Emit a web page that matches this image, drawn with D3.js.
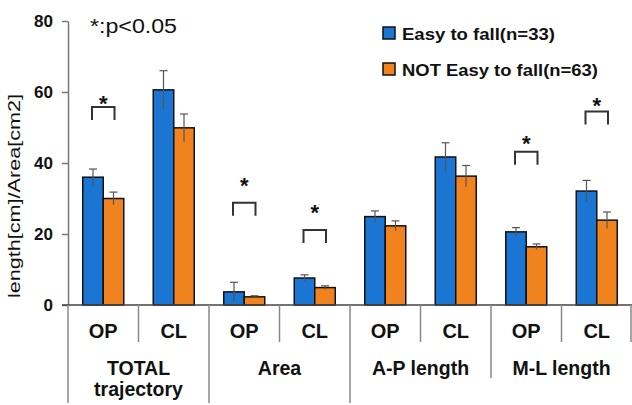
<!DOCTYPE html>
<html>
<head>
<meta charset="utf-8">
<script src="https://d3js.org/d3.v7.min.js"></script>
<style>
  body { margin: 0; background: #fff; }
  text { font-family: "Liberation Sans", Arial, sans-serif; }
</style>
</head>
<body>
<svg width="632" height="405"></svg>
<script>
// data
const groups = ["TOTAL\ntrajectory", "Area", "A-P length", "M-L length"];
const conditions = ["OP", "CL", "OP", "CL", "OP", "CL", "OP", "CL"];
const easyMean = [36, 60.6, 3.7, 7.6, 24.9, 41.7, 20.6, 32.1];
const easyErr = [2.3, 5.4, 2.7, 0.9, 1.6, 4.0, 1.2, 3.0];
const notMean = [30, 49.9, 2.3, 4.9, 22.3, 36.3, 16.4, 23.9];
const notErr = [1.8, 3.9, 0.3, 0.5, 1.4, 3.0, 0.8, 2.3];
const seriesNames = ["Easy to fall(n=33)", "NOT Easy to fall(n=63)"];
const colors = ["#1b76d3", "#f1831f"];
const yTicks = [0, 20, 40, 60, 80];
// significance: category index, bracket level, star level
const sigIdx = [0, 2, 3, 6, 7];
const sigLevel = [55.8, 28.8, 21.1, 43.2, 54.5];
const starLevel = [57.5, 34.5, 26.8, 46.3, 57.0];

const svg = d3.select("svg");
const x0 = 68, x1 = 632, yTop = 21, yBase = 305;

const y = d3.scaleLinear().domain([0, 80]).range([yBase, yTop]);
const x = d3.scaleBand().domain(d3.range(8)).range([x0, x1]).paddingInner(0).paddingOuter(0);
const xs = d3.scaleBand().domain([0, 1]).range([0, 41]);
const barOff = (x.bandwidth() - 41) / 2;

const data = d3.range(8).map(i => [
  { i, s: 0, v: easyMean[i], e: easyErr[i] },
  { i, s: 1, v: notMean[i], e: notErr[i] }
]).flat();

// y axis
const yAxis = d3.axisLeft(y).tickValues(yTicks).tickSize(6).tickSizeOuter(0);
const ga = svg.append("g").attr("transform", `translate(${x0},0)`).call(yAxis);
ga.select(".domain").attr("stroke", "#777").attr("stroke-width", 1.5);
ga.selectAll(".tick line").attr("stroke", "#777").attr("stroke-width", 1.5);
ga.selectAll(".tick text").attr("font-size", 17).attr("font-weight", "bold")
  .attr("fill", "#111").attr("x", -15).attr("dy", "0.35em")
  .attr("font-family", "'Liberation Sans', Arial, sans-serif");

svg.append("text")
  .attr("transform", `translate(20,196) rotate(-90)`)
  .attr("text-anchor", "middle")
  .attr("font-size", 16)
  .attr("fill", "#111")
  .attr("textLength", 204).attr("lengthAdjust", "spacingAndGlyphs")
  .text("length[cm]/Area[cm2]");

// bars
svg.selectAll(".bar").data(data).enter().append("rect")
  .attr("class", "bar")
  .attr("x", d => x(d.i) + barOff + xs(d.s))
  .attr("width", xs.bandwidth())
  .attr("y", d => y(d.v))
  .attr("height", d => yBase - y(d.v))
  .attr("fill", d => colors[d.s])
  .attr("stroke", "#111")
  .attr("stroke-width", 1.5);

// error bars
const eb = svg.selectAll(".err").data(data).enter().append("g").attr("class", "err")
  .attr("stroke", "#555").attr("stroke-width", 1.2);
const cx = d => x(d.i) + barOff + xs(d.s) + xs.bandwidth() / 2;
eb.append("line").attr("x1", cx).attr("x2", cx)
  .attr("y1", d => y(d.v + d.e)).attr("y2", d => y(Math.max(0, d.v - d.e)));
eb.append("line").attr("x1", d => cx(d) - 4).attr("x2", d => cx(d) + 4)
  .attr("y1", d => y(d.v + d.e)).attr("y2", d => y(d.v + d.e));

// x axis line
svg.append("line").attr("x1", 62).attr("x2", x1).attr("y1", yBase).attr("y2", yBase)
  .attr("stroke", "#444").attr("stroke-width", 1.5);

// separators
const inner = [1, 3, 5, 7];
svg.selectAll(".sepIn").data(inner).enter().append("line")
  .attr("x1", i => x(i)).attr("x2", i => x(i))
  .attr("y1", yBase).attr("y2", 342)
  .attr("stroke", "#888").attr("stroke-width", 1.5);
const outer = [0, 2, 4, 6, 8];
const outerEnd = [403, 403, 403, 378, 342];
svg.selectAll(".sepOut").data(outer).enter().append("line")
  .attr("x1", i => i < 8 ? x(i) : x1 - 1).attr("x2", i => i < 8 ? x(i) : x1 - 1)
  .attr("y1", yBase).attr("y2", (i, k) => outerEnd[k])
  .attr("stroke", "#888").attr("stroke-width", 1.5);

// category labels
svg.selectAll(".cond").data(conditions).enter().append("text")
  .attr("x", (d, i) => x(i) + x.bandwidth() / 2)
  .attr("y", 338)
  .attr("text-anchor", "middle")
  .attr("font-size", 20).attr("font-weight", "bold").attr("fill", "#111")
  .text(d => d);

groups.forEach((g, k) => {
  const t = svg.append("text")
    .attr("x", x(k * 2) + x.bandwidth())
    .attr("y", 375)
    .attr("text-anchor", "middle")
    .attr("font-size", 19.5).attr("font-weight", "bold").attr("fill", "#111");
  g.split("\n").forEach((line, j) => {
    t.append("tspan").attr("x", x(k * 2) + x.bandwidth()).attr("dy", j ? 21 : 0).text(line);
  });
});

// significance brackets
sigIdx.forEach((i, k) => {
  const xa = x(i) + barOff + xs(0) + xs.bandwidth() / 2;
  const xb = x(i) + barOff + xs(1) + xs.bandwidth() / 2;
  const yb = y(sigLevel[k]);
  svg.append("path")
    .attr("d", `M${xa - 1},${yb + 13}V${yb}H${xb + 1}V${yb + 13}`)
    .attr("fill", "none").attr("stroke", "#333").attr("stroke-width", 2);
  svg.append("text")
    .attr("x", (xa + xb) / 2).attr("y", y(starLevel[k]) + 10)
    .attr("text-anchor", "middle")
    .attr("font-size", 22).attr("font-weight", "bold").attr("fill", "#111")
    .text("*");
});

// note
svg.append("text").attr("x", 90).attr("y", 33)
  .attr("font-size", 20).attr("fill", "#111")
  .attr("textLength", 87).attr("lengthAdjust", "spacingAndGlyphs")
  .text("*:p<0.05");

// legend
const lg = svg.selectAll(".leg").data(seriesNames).enter().append("g")
  .attr("transform", (d, i) => `translate(383,${27 + i * 36})`);
lg.append("rect").attr("width", 12).attr("height", 12)
  .attr("fill", (d, i) => colors[i]).attr("stroke", "#111").attr("stroke-width", 1.5);
lg.append("text").attr("x", 19).attr("y", 12.5)
  .attr("font-size", 17).attr("font-weight", "bold").attr("fill", "#111")
  .attr("textLength", (d, i) => i ? 196 : 153).attr("lengthAdjust", "spacingAndGlyphs")
  .text(d => d);
</script>
</body>
</html>
